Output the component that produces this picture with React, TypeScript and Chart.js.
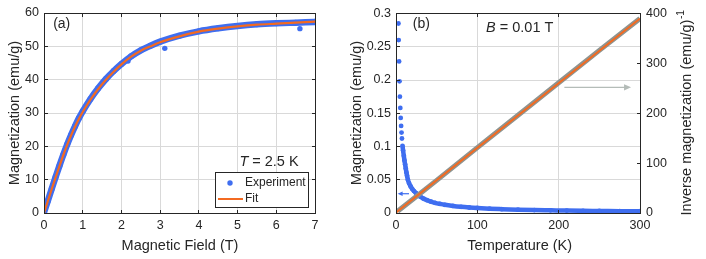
import React, { useEffect, useRef } from "react";
import { Chart, registerables } from "chart.js";
Chart.register(...registerables);

// ---------- Panel (a): M vs H at T = 2.5 K ----------
const fieldFit = [0, 0.1, 0.2, 0.3, 0.4, 0.5, 0.6, 0.7, 0.8, 0.9, 1.0, 1.2, 1.4, 1.6, 1.8, 2.0, 2.25, 2.5, 2.75, 3.0, 3.5, 4.0, 4.5, 5.0, 5.5, 6.0, 6.5, 7.0];
const momentFit = [0, 3.6, 7.2, 10.7, 14.1, 17.4, 20.5, 23.3, 25.9, 28.2, 30.3, 34.0, 37.2, 40.0, 42.4, 44.6, 46.9, 48.7, 50.0, 51.2, 53.0, 54.4, 55.3, 56.0, 56.5, 56.8, 57.1, 57.4];
const fieldExp = [0, 0.1, 0.2, 0.3, 0.4, 0.5, 0.6, 0.7, 0.8, 0.9, 1.0, 1.2, 1.4, 1.6, 1.8, 2.0, 2.25, 2.5, 2.75, 3.0, 3.5, 4.0, 4.5, 5.0, 5.5, 6.0, 6.5, 7.0];
const momentExp = [0.2, 3.7, 7.3, 10.8, 14.2, 17.5, 20.6, 23.4, 26.0, 28.4, 30.5, 34.2, 37.4, 40.2, 42.6, 44.7, 47.0, 48.8, 50.2, 51.4, 53.2, 54.5, 55.4, 56.1, 56.6, 56.9, 57.1, 57.3];
const fieldOut = [2.17, 3.12, 6.61, 7.0];
const momentOut = [45.6, 49.4, 55.3, 57.5];

// ---------- Panel (b): M and 1/M vs T at B = 0.01 T ----------
const tempM = [3.0, 3.3, 3.8, 4.3, 4.8, 5.3, 5.8, 6.3, 6.8, 7.3, 8.0, 8.7, 9.6, 10.4, 11.2, 12, 12.8, 13.6, 14.6, 16, 18, 20, 22, 24.6, 27, 30, 34, 38, 43, 48, 54, 60, 70, 80, 90, 100, 115, 130, 150, 170, 190, 210, 230, 250, 275, 300];
const magM = [0.285, 0.26, 0.228, 0.198, 0.175, 0.158, 0.143, 0.131, 0.121, 0.112, 0.101, 0.094, 0.086, 0.079, 0.073, 0.067, 0.061, 0.056, 0.05, 0.045, 0.04, 0.036, 0.033, 0.03, 0.027, 0.0245, 0.0215, 0.0193, 0.0171, 0.0153, 0.0137, 0.0123, 0.0106, 0.0093, 0.0083, 0.0075, 0.0065, 0.0058, 0.005, 0.0044, 0.004, 0.0036, 0.0033, 0.0031, 0.0028, 0.0026];
const tempInv = [2, 25, 50, 100, 150, 200, 250, 300];
const invMag = [3.5, 33, 65.5, 131, 196, 261, 326, 390];
const tempInvFit = [0, 300];
const invMagFit = [0.8, 390];

// annotation arrows (data coordinates)
const arrowM = { x0: 16, x1: 2, y: 0.029 };
const arrowInv = { x0: 207, x1: 289, y: 252 };

const FONT = '"Liberation Sans", Arial, Helvetica, sans-serif';
const INK = "#262626";
const BLUE = "#3f6ef0";
const ORANGE = "#f36a21";
const GRAY = "#8e9490";
const GRID = "#d9d9d9";
const ARROW_GRAY = "#b4bcb8";

const xy = (xs: number[], ys: number[]) => xs.map((x, i) => ({ x, y: ys[i] }));
const al = (v: number) => Math.round(v - 0.5) + 0.5;

function tickFont() {
  return { family: FONT, size: 12.5 };
}

function drawFrame(chart: any, xs: any, left: any, right: any) {
  const { ctx, chartArea: a } = chart;
  const L = al(a.left), R = al(a.right), T = al(a.top), B = al(a.bottom);
  ctx.save();
  ctx.strokeStyle = INK;
  ctx.lineWidth = 1;
  ctx.beginPath();
  const tl = 3.5;
  xs.ticks.forEach((t: any) => {
    const p = al(xs.getPixelForValue(t.value));
    ctx.moveTo(p, B); ctx.lineTo(p, B - tl);
    ctx.moveTo(p, T); ctx.lineTo(p, T + tl);
  });
  left.ticks.forEach((t: any) => {
    const p = al(left.getPixelForValue(t.value));
    ctx.moveTo(L, p); ctx.lineTo(L + tl, p);
    if (!right) { ctx.moveTo(R, p); ctx.lineTo(R - tl, p); }
  });
  if (right) {
    right.ticks.forEach((t: any) => {
      const p = al(right.getPixelForValue(t.value));
      ctx.moveTo(R, p); ctx.lineTo(R - tl, p);
    });
  }
  ctx.stroke();
  ctx.strokeRect(L, T, R - L, B - T);
  ctx.restore();
}

function text(ctx: any, s: string, x: number, y: number, size: number, align = "center") {
  ctx.font = `${size}px ${FONT}`;
  ctx.textAlign = align;
  ctx.textBaseline = "middle";
  ctx.fillStyle = INK;
  ctx.fillText(s, x, y);
}

function vtext(ctx: any, s: string, x: number, y: number, size: number, sup?: string) {
  ctx.save();
  ctx.translate(x, y);
  ctx.rotate(-Math.PI / 2);
  ctx.font = `${size}px ${FONT}`;
  const w1 = ctx.measureText(s).width;
  let w2 = 0;
  if (sup) {
    ctx.font = `${size * 0.7}px ${FONT}`;
    w2 = ctx.measureText(sup).width;
  }
  const start = -(w1 + w2) / 2;
  ctx.fillStyle = INK;
  ctx.textBaseline = "middle";
  ctx.textAlign = "left";
  ctx.font = `${size}px ${FONT}`;
  ctx.fillText(s, start, 0);
  if (sup) {
    ctx.font = `${size * 0.7}px ${FONT}`;
    ctx.fillText(sup, start + w1 + 0.5, -size * 0.42);
  }
  ctx.restore();
}

function mixed(ctx: any, parts: [string, boolean][], cx: number, cy: number, size: number) {
  let total = 0;
  const ws = parts.map(([s, it]) => {
    ctx.font = `${it ? "italic " : ""}${size}px ${FONT}`;
    const w = ctx.measureText(s).width;
    total += w;
    return w;
  });
  let x = cx - total / 2;
  ctx.textBaseline = "middle";
  ctx.textAlign = "left";
  ctx.fillStyle = INK;
  parts.forEach(([s, it], i) => {
    ctx.font = `${it ? "italic " : ""}${size}px ${FONT}`;
    ctx.fillText(s, x, cy);
    x += ws[i];
  });
}

function arrow(ctx: any, x0: number, x1: number, y: number, color: string, head: number, width: number) {
  const dir = Math.sign(x1 - x0);
  ctx.save();
  ctx.strokeStyle = color;
  ctx.fillStyle = color;
  ctx.lineWidth = width;
  ctx.beginPath();
  ctx.moveTo(x0, y);
  ctx.lineTo(x1 - dir * head * 0.8, y);
  ctx.stroke();
  ctx.beginPath();
  ctx.moveTo(x1, y);
  ctx.lineTo(x1 - dir * head, y - head * 0.45);
  ctx.lineTo(x1 - dir * head, y + head * 0.45);
  ctx.closePath();
  ctx.fill();
  ctx.restore();
}

function configA(): any {
  return {
    type: "scatter",
    data: {
      datasets: [
        {
          label: "Fit",
          data: xy(fieldFit, momentFit),
          showLine: true,
          borderColor: ORANGE,
          borderWidth: 2.2,
          pointRadius: 0,
          cubicInterpolationMode: "monotone",
          order: 0,
        },
        {
          label: "Experiment",
          data: xy(fieldExp, momentExp),
          showLine: true,
          borderColor: BLUE,
          backgroundColor: BLUE,
          borderWidth: 6.5,
          pointRadius: 3,
          pointBorderWidth: 0,
          cubicInterpolationMode: "monotone",
          order: 1,
        },
        {
          label: "Experiment (scattered)",
          data: xy(fieldOut, momentOut),
          showLine: false,
          backgroundColor: BLUE,
          pointRadius: 2.7,
          pointBorderWidth: 0,
          order: 1,
        },
      ],
    },
    options: {
      animation: false,
      responsive: false,
      devicePixelRatio: 1,
      layout: { padding: { top: 13, right: 30, left: 0, bottom: 0 } },
      plugins: { legend: { display: false }, tooltip: { enabled: false } },
      scales: {
        x: {
          type: "linear",
          min: 0,
          max: 7,
          ticks: { stepSize: 1, font: tickFont(), color: INK, padding: 5.5, autoSkip: false, maxRotation: 0 },
          grid: { color: GRID, drawTicks: false, lineWidth: 1 },
          border: { display: false },
          afterFit: (s: any) => { s.height = 46; },
        },
        y: {
          type: "linear",
          min: 0,
          max: 60,
          ticks: { stepSize: 10, font: tickFont(), color: INK, padding: 5, autoSkip: false },
          grid: { color: GRID, drawTicks: false, lineWidth: 1 },
          border: { display: false },
          afterFit: (s: any) => { s.width = 44; },
        },
      },
    },
    plugins: [
      {
        id: "decorA",
        afterDraw(chart: any) {
          const { ctx } = chart;
          drawFrame(chart, chart.scales.x, chart.scales.y, null);
          ctx.save();
          vtext(ctx, "Magnetization (emu/g)", 15, 113, 14.5);
          text(ctx, "Magnetic Field (T)", 180, 246, 14.5);
          text(ctx, "(a)", 61.7, 23.8, 14);
          mixed(ctx, [["T", true], [" = 2.5 K", false]], 269, 161.7, 14.5);
          // legend
          ctx.fillStyle = "#fff";
          ctx.fillRect(215.5, 172.5, 93, 35);
          ctx.strokeStyle = INK;
          ctx.lineWidth = 1;
          ctx.strokeRect(215.5, 172.5, 93, 35);
          ctx.fillStyle = BLUE;
          ctx.beginPath();
          ctx.arc(230, 183, 2.7, 0, Math.PI * 2);
          ctx.fill();
          ctx.strokeStyle = ORANGE;
          ctx.lineWidth = 2;
          ctx.beginPath();
          ctx.moveTo(218, 199);
          ctx.lineTo(243, 199);
          ctx.stroke();
          text(ctx, "Experiment", 245, 183, 12, "left");
          text(ctx, "Fit", 245, 199, 12, "left");
          ctx.restore();
        },
      },
    ],
  };
}

function configB(): any {
  return {
    type: "scatter",
    data: {
      datasets: [
        {
          label: "1/M fit",
          data: xy(tempInvFit, invMagFit),
          yAxisID: "y1",
          showLine: true,
          borderColor: ORANGE,
          borderWidth: 2,
          pointRadius: 0,
          order: 0,
        },
        {
          label: "1/M",
          data: xy(tempInv, invMag),
          yAxisID: "y1",
          showLine: true,
          borderColor: GRAY,
          borderWidth: 5,
          pointRadius: 0,
          order: 1,
        },
        {
          label: "M",
          data: xy(tempM, magM),
          yAxisID: "y",
          showLine: true,
          borderColor: BLUE,
          backgroundColor: BLUE,
          borderWidth: 4.5,
          pointRadius: 2.4,
          pointBorderWidth: 0,
          cubicInterpolationMode: "monotone",
          segment: {
            borderColor: (c: any) => (c.p0.parsed.y > 0.105 ? "rgba(0,0,0,0)" : BLUE),
          },
          order: 2,
        },
      ],
    },
    options: {
      animation: false,
      responsive: false,
      devicePixelRatio: 1,
      layout: { padding: { top: 13, right: 0, left: 0, bottom: 0 } },
      plugins: { legend: { display: false }, tooltip: { enabled: false } },
      scales: {
        x: {
          type: "linear",
          min: 0,
          max: 300,
          ticks: { stepSize: 100, font: tickFont(), color: INK, padding: 5.5, autoSkip: false, maxRotation: 0 },
          grid: { color: GRID, drawTicks: false, lineWidth: 1 },
          border: { display: false },
          afterFit: (s: any) => { s.height = 46; },
        },
        y: {
          type: "linear",
          position: "left",
          min: 0,
          max: 0.3,
          ticks: {
            stepSize: 0.05,
            font: tickFont(),
            color: INK,
            padding: 5,
            autoSkip: false,
            callback: (v: any) => String(+Number(v).toFixed(3)),
          },
          grid: { color: GRID, drawTicks: false, lineWidth: 1 },
          border: { display: false },
          afterFit: (s: any) => { s.width = 51; },
        },
        y1: {
          type: "linear",
          position: "right",
          min: 0,
          max: 400,
          ticks: { stepSize: 100, font: tickFont(), color: INK, padding: 6, autoSkip: false },
          grid: { display: false, drawTicks: false },
          border: { display: false },
          afterFit: (s: any) => { s.width = 66; },
        },
      },
    },
    plugins: [
      {
        id: "decorB",
        afterDraw(chart: any) {
          const { ctx } = chart;
          const { x, y, y1 } = chart.scales;
          drawFrame(chart, x, y, y1);
          ctx.save();
          vtext(ctx, "Magnetization (emu/g)", 12, 113, 14.5);
          vtext(ctx, "Inverse magnetization (emu/g)", 342, 113, 14.5, "-1");
          text(ctx, "Temperature (K)", 174.7, 246, 14.5);
          text(ctx, "(b)", 76.3, 24, 14);
          mixed(ctx, [["B", true], [" = 0.01 T", false]], 174.7, 28, 14.5);
          arrow(ctx, x.getPixelForValue(arrowM.x0), x.getPixelForValue(arrowM.x1), y.getPixelForValue(arrowM.y), BLUE, 5, 1.2);
          arrow(ctx, x.getPixelForValue(arrowInv.x0), x.getPixelForValue(arrowInv.x1), y1.getPixelForValue(arrowInv.y), ARROW_GRAY, 7, 1.3);
          ctx.restore();
        },
      },
    ],
  };
}

export default function App() {
  const refA = useRef<HTMLCanvasElement>(null);
  const refB = useRef<HTMLCanvasElement>(null);
  useEffect(() => {
    const a = new Chart(refA.current as HTMLCanvasElement, configA());
    const b = new Chart(refB.current as HTMLCanvasElement, configB());
    return () => {
      a.destroy();
      b.destroy();
    };
  }, []);
  return (
    <div style={{ position: "absolute", left: 0, top: 0, width: 706, height: 259, background: "#fff" }}>
      <canvas ref={refA} width={345} height={259} style={{ position: "absolute", left: 0, top: 0, width: 345, height: 259 }} />
      <canvas ref={refB} width={361} height={259} style={{ position: "absolute", left: 345, top: 0, width: 361, height: 259 }} />
    </div>
  );
}
